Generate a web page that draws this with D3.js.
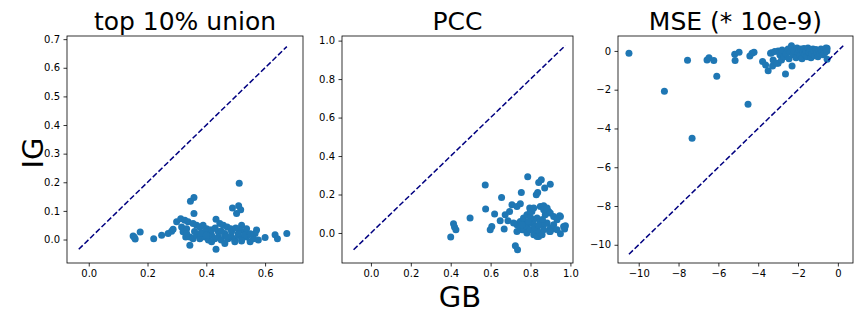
<!DOCTYPE html>
<html>
<head>
<meta charset="utf-8">
<script src="https://cdn.jsdelivr.net/npm/d3@7"></script>
<style>
  body { margin: 0; background: #fff; }
  text { font-family: "DejaVu Sans", sans-serif; }
</style>
</head>
<body>
<svg id="vis"></svg>
<script>
// panel 1: top 10% union
var top10GB = [0.151,0.158,0.155,0.175,0.221,0.248,0.270,0.282,0.287,0.299,0.313,0.327,0.338,0.316,0.321,0.333,0.346,0.358,0.358,0.355,0.367,0.378,0.389,0.401,0.412,0.433,0.446,0.458,0.471,0.483,0.489,0.510,0.517,0.503,0.512,0.520,0.514,0.531,0.571,0.566,0.600,0.634,0.642,0.674,0.344,0.433,
  0.344,0.355,0.367,0.378,0.395,0.407,0.418,0.429,0.441,0.451,0.463,0.474,0.486,0.497,0.509,0.520,0.537,0.549,0.560,0.577,
  0.330,0.333,0.395,0.418,0.441,0.463,0.486,0.509,0.537,0.497,0.463,0.418,
  0.380,0.400,0.450,0.470,0.530,0.550,0.360,0.430,0.500,0.520]
var top10IG = [0.012,0.002,0.008,0.026,0.003,0.015,0.021,0.029,0.036,0.062,0.073,0.067,0.062,0.044,0.027,0.038,0.134,0.147,0.091,0.056,0.050,0.044,0.050,0.038,0.033,0.071,0.056,0.050,0.044,0.038,0.110,0.118,0.104,0.091,0.197,0.050,0.033,0.027,0.033,0.021,0.007,0.017,0.003,0.021,-0.020,-0.034,
  0.009,0.003,0.015,0.003,0.009,-0.002,0.015,0.003,0.009,-0.002,0.015,0.003,0.009,-0.002,0.015,0.003,0.009,-0.008,0.003,-0.002,
  0.009,0.021,0.027,0.033,0.027,0.021,0.027,0.021,0.038,-0.008,-0.014,-0.008,
  0.022,0.015,0.030,0.010,0.015,0.020,0.028,0.040,0.040,-0.005]

// panel 2: PCC
var pccGB = [0.400,0.414,0.419,0.426,0.497,0.573,0.575,0.598,0.606,0.620,0.655,0.648,0.668,0.673,0.695,0.687,0.707,0.732,0.749,0.724,0.735,0.754,0.732,0.749,0.766,0.758,0.786,0.796,0.807,0.829,0.836,0.841,0.854,0.871,0.899,0.849,0.866,0.883,0.891,0.874,0.946,0.975,0.971,0.950,0.896,0.908,0.841,0.824,0.858,
  0.732,0.749,0.765,0.782,0.799,0.816,0.866,0.883,0.899,0.916,0.933,0.950,0.749,0.765,0.782,0.799,0.816,0.833,0.849,0.866,0.883,0.899,0.916,0.933,0.782,0.816,0.833,0.849,0.866,0.899,0.833,0.799,0.757,0.732,0.715,0.966,
  0.810,0.820,0.840,0.860,0.800,0.790]
var pccIG = [-0.021,0.048,0.031,0.017,0.078,0.249,0.125,0.017,0.034,0.099,0.185,0.064,0.021,0.095,0.112,0.064,0.147,0.138,0.152,-0.066,-0.087,0.211,0.047,0.034,0.060,0.017,0.292,0.130,0.112,0.199,0.211,0.263,0.277,0.234,0.254,0.138,0.142,0.121,0.112,0.095,0.090,0.038,0.021,-0.004,0.008,0.021,-0.018,0.000,-0.009,
  0.043,0.060,0.078,0.095,0.112,0.130,0.121,0.130,0.104,0.086,0.069,0.086,0.026,0.017,0.034,0.052,0.069,0.078,0.060,0.043,0.052,0.026,0.043,0.017,0.000,-0.009,-0.018,0.000,0.017,0.008,0.017,0.017,0.043,0.008,0.052,0.034,
  0.050,0.030,0.040,0.070,0.080,0.060]

// panel 3: MSE (* 10e-9)
var mseGB = [-10.49,-8.71,-7.55,-7.32,-6.57,-6.47,-6.23,-6.08,-5.18,-4.96,-5.16,-4.51,-4.42,-4.31,-4.21,-3.78,-3.63,-3.50,-3.28,-2.63,-2.30,-0.54,-3.33,-3.00,-3.00,-3.38,-3.25,-3.17,-3.08,-2.91,-2.83,-2.33,-0.54,
  -2.9,-2.8,-2.7,-2.6,-2.5,-2.45,-2.4,-2.25,-2.2,-2.1,-2.05,-2.0,-1.95,-1.9,-1.85,-1.8,-1.75,-1.7,-1.65,-1.6,-1.55,-1.5,-1.45,-1.4,-1.35,-1.3,-1.25,-1.2,-1.15,-1.1,-1.05,-1.0,-0.95,-0.9,-0.85,-0.8,-0.75,-0.7,-0.65,-0.6,-0.55]
var mseIG = [-0.12,-2.08,-0.48,-4.51,-0.47,-0.35,-0.50,-1.31,-0.17,-0.07,-0.50,-2.75,-0.26,-0.12,-0.07,-0.55,-0.72,-1.02,-0.78,-1.19,-0.78,-0.43,-0.09,0.00,-0.64,-0.12,-0.47,-0.03,-0.64,-0.21,-0.47,0.27,0.14,
  -0.1,0.05,-0.3,-0.15,0.1,-0.4,-0.05,-0.2,0.0,-0.35,0.15,-0.1,0.05,-0.25,0.1,-0.4,-0.05,0.12,-0.2,0.0,-0.3,0.15,-0.1,0.05,-0.35,-0.15,0.1,-0.05,-0.25,0.08,-0.1,-0.3,0.0,-0.15,0.1,-0.05,-0.2,0.05,-0.1,0.15,0.0]

var titles = ["top 10% union", "PCC", "MSE (* 10e-9)"]
var xTicks = [[0, 0.2, 0.4, 0.6], [0, 0.2, 0.4, 0.6, 0.8, 1.0], [-10, -8, -6, -4, -2, 0]]
var yTicks = [[0, 0.1, 0.2, 0.3, 0.4, 0.5, 0.6, 0.7], [0, 0.2, 0.4, 0.6, 0.8, 1.0], [-10, -8, -6, -4, -2, 0]]
var xLimits = [[-0.074, 0.729], [-0.145, 1.013], [-11.04, 0.76]]
var yLimits = [[-0.082, 0.711], [-0.156, 1.024], [-10.94, 0.77]]

var panels = [
  { gb: top10GB, ig: top10IG, left: 67, right: 303, fmt: d3.format(".1f") },
  { gb: pccGB, ig: pccIG, left: 342, right: 573, fmt: d3.format(".1f") },
  { gb: mseGB, ig: mseIG, left: 618, right: 853, fmt: d3.format("d") }
]

var dimensions = { width: 864, height: 324, top: 36, bottom: 263 }

var svg = d3.select("#vis")
  .attr("width", dimensions.width)
  .attr("height", dimensions.height)

svg.append("rect").attr("width", dimensions.width).attr("height", dimensions.height).attr("fill", "#fff")

panels.forEach(function (p, i) {
  var xScale = d3.scaleLinear().domain(xLimits[i]).range([p.left, p.right])
  var yScale = d3.scaleLinear().domain(yLimits[i]).range([dimensions.bottom, dimensions.top])

  var g = svg.append("g")

  var clipId = "clip" + i
  g.append("clipPath").attr("id", clipId)
    .append("rect")
    .attr("x", p.left).attr("y", dimensions.top)
    .attr("width", p.right - p.left).attr("height", dimensions.bottom - dimensions.top)

  var pts = p.gb.map((d, k) => ({ x: d, y: p.ig[k] }))

  g.append("g")
    .attr("clip-path", "url(#" + clipId + ")")
    .selectAll("circle")
    .data(pts)
    .enter()
    .append("circle")
    .attr("cx", d => xScale(d.x))
    .attr("cy", d => yScale(d.y))
    .attr("r", 3.5)
    .attr("fill", "#1f77b4")

  // diagonal from overall min to overall max
  var lo = d3.min(p.gb.concat(p.ig))
  var hi = d3.max(p.gb.concat(p.ig))
  g.append("line")
    .attr("x1", xScale(lo)).attr("y1", yScale(lo))
    .attr("x2", xScale(hi)).attr("y2", yScale(hi))
    .attr("stroke", "#000080")
    .attr("stroke-width", 1.5)
    .attr("stroke-dasharray", "5.55,2.4")

  var xAxisGen = d3.axisBottom(xScale).tickValues(xTicks[i]).tickFormat(p.fmt).tickSize(3.5).tickPadding(3.5)
  var xAxis = g.append("g")
    .attr("transform", `translate(0,${dimensions.bottom})`)
    .call(xAxisGen)
  var yAxisGen = d3.axisLeft(yScale).tickValues(yTicks[i]).tickFormat(p.fmt).tickSize(3.5).tickPadding(3.5)
  var yAxis = g.append("g")
    .attr("transform", `translate(${p.left},0)`)
    .call(yAxisGen)

  ;[xAxis, yAxis].forEach(function (a) {
    a.select(".domain").remove()
    a.selectAll(".tick line").attr("stroke", "#000").attr("stroke-width", 0.8)
    a.selectAll(".tick text").attr("fill", "#000").style("font-size", "10px").style("font-family", "DejaVu Sans")
  })

  g.append("rect")
    .attr("x", p.left).attr("y", dimensions.top)
    .attr("width", p.right - p.left).attr("height", dimensions.bottom - dimensions.top)
    .attr("fill", "none").attr("stroke", "#000").attr("stroke-width", 0.8)

  g.append("text")
    .attr("x", (p.left + p.right) / 2)
    .attr("y", 30)
    .attr("text-anchor", "middle")
    .style("font-size", "25px")
    .text(titles[i])
})

svg.append("text")
  .attr("transform", "translate(43,153) rotate(-90)")
  .attr("text-anchor", "middle")
  .style("font-size", "29px")
  .text("IG")

svg.append("text")
  .attr("x", 460)
  .attr("y", 307)
  .attr("text-anchor", "middle")
  .style("font-size", "29px")
  .text("GB")
</script>
</body>
</html>
